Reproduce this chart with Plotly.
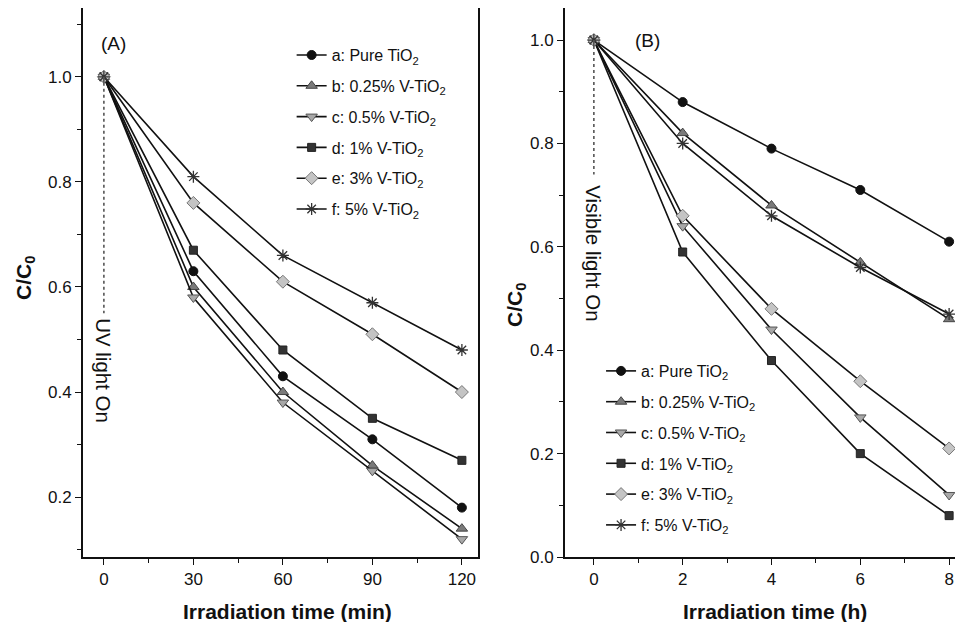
import plotly.graph_objects as go

# Panel A: UV light, time in minutes
time_min = [0, 30, 60, 90, 120]
uv_a = [1.0, 0.63, 0.43, 0.31, 0.18]
uv_b = [1.0, 0.60, 0.40, 0.26, 0.14]
uv_c = [1.0, 0.58, 0.38, 0.25, 0.12]
uv_d = [1.0, 0.67, 0.48, 0.35, 0.27]
uv_e = [1.0, 0.76, 0.61, 0.51, 0.40]
uv_f = [1.0, 0.81, 0.66, 0.57, 0.48]

# Panel B: visible light, time in hours
time_h = [0, 2, 4, 6, 8]
vis_a = [1.0, 0.88, 0.79, 0.71, 0.61]
vis_b = [1.0, 0.82, 0.68, 0.57, 0.46]
vis_c = [1.0, 0.64, 0.44, 0.27, 0.12]
vis_d = [1.0, 0.59, 0.38, 0.20, 0.08]
vis_e = [1.0, 0.66, 0.48, 0.34, 0.21]
vis_f = [1.0, 0.80, 0.66, 0.56, 0.47]

labels = [
    "a: Pure TiO<sub>2</sub>",
    "b: 0.25% V-TiO<sub>2</sub>",
    "c: 0.5% V-TiO<sub>2</sub>",
    "d: 1% V-TiO<sub>2</sub>",
    "e: 3% V-TiO<sub>2</sub>",
    "f: 5% V-TiO<sub>2</sub>",
]

FONT = "Arial, 'Liberation Sans', sans-serif"
INK = "#111111"

# the page body has an 8px margin, so the figure is 8px smaller than the window
W, H = 955, 614


def px(x, y):
    # window pixel -> paper fraction
    return (x - 8) / W, 1 - (y - 8) / H


# marker style per sample
styles = [
    dict(symbol="circle", size=9, color=INK, line=dict(color=INK, width=1)),
    dict(symbol="triangle-up", size=10, color="#7a7a7a", line=dict(color="#444444", width=1)),
    dict(symbol="triangle-down", size=10, color="#a8a8a8", line=dict(color="#555555", width=1)),
    dict(symbol="square", size=8, color="#333333", line=dict(color="#222222", width=1)),
    dict(symbol="diamond", size=10, color="#c4c4c4", line=dict(color="#777777", width=1)),
    dict(symbol="asterisk-open", size=10, color="#333333", line=dict(color="#333333", width=1.3)),
]

fig = go.Figure()

uv_series = [uv_a, uv_b, uv_c, uv_d, uv_e, uv_f]
vis_series = [vis_a, vis_b, vis_c, vis_d, vis_e, vis_f]

for i, ys in enumerate(uv_series):
    fig.add_trace(go.Scatter(
        x=time_min, y=ys, mode="lines+markers", name=labels[i],
        line=dict(color=INK, width=1.6), marker=styles[i],
        xaxis="x", yaxis="y", legend="legend", legendgroup="a" + str(i),
    ))

for i, ys in enumerate(vis_series):
    fig.add_trace(go.Scatter(
        x=time_h, y=ys, mode="lines+markers", name=labels[i],
        line=dict(color=INK, width=1.6), marker=styles[i],
        xaxis="x2", yaxis="y2", legend="legend2", legendgroup="b" + str(i),
    ))

axis_common = dict(
    showline=True, linecolor=INK, linewidth=1.8, mirror=True,
    ticks="outside", ticklen=6, tickwidth=1.4, tickcolor=INK,
    showgrid=False, zeroline=False, automargin=False,
    tickfont=dict(family=FONT, size=17, color=INK),
    minor=dict(ticks="outside", ticklen=4, tickwidth=1.2, tickcolor=INK),
)
title_font = dict(family=FONT, size=21, color=INK, weight="bold")

legend_common = dict(
    font=dict(family=FONT, size=16, color=INK),
    bgcolor="rgba(0,0,0,0)", tracegroupgap=7, itemwidth=30,
    xanchor="left", yanchor="top",
)

ya0 = px(0, 557)[1]
fig.update_layout(
    width=W, height=H,
    margin=dict(l=0, r=0, t=0, b=0),
    paper_bgcolor="white", plot_bgcolor="white",
    showlegend=True,
    xaxis=dict(domain=[px(83, 0)[0], px(478, 0)[0]], range=[-7, 125.4], tickvals=[0, 30, 60, 90, 120],
               minor_tickvals=[15, 45, 75, 105], **axis_common),
    yaxis=dict(domain=[ya0, 1.0], range=[0.086, 1.131], tickvals=[0.2, 0.4, 0.6, 0.8, 1.0],
               ticktext=["0.2", "0.4", "0.6", "0.8", "1.0"],
               minor_tickvals=[0.1, 0.3, 0.5, 0.7, 0.9, 1.1],
               anchor="x", **axis_common),
    xaxis2=dict(domain=[px(565, 0)[0], px(958, 0)[0]], range=[-0.65, 8.2], tickvals=[0, 2, 4, 6, 8],
                minor_tickvals=[1, 3, 5, 7], anchor="y2", **axis_common),
    yaxis2=dict(domain=[ya0, 1.0], range=[0.0, 1.062], tickvals=[0.0, 0.2, 0.4, 0.6, 0.8, 1.0],
                ticktext=["0.0", "0.2", "0.4", "0.6", "0.8", "1.0"],
                minor_tickvals=[0.1, 0.3, 0.5, 0.7, 0.9],
                anchor="x2", **axis_common),
    legend=dict(x=0.297, y=0.951, **legend_common),
    legend2=dict(x=0.621, y=0.4365, **legend_common),
)

# axis titles
for (cx, cy), text, angle in [
    ((287, 611), "Irradiation time (min)", 0),
    ((775, 611), "Irradiation time (h)", 0),
    ((25, 278), "C/C<sub>0</sub>", -90),
    ((516, 305), "C/C<sub>0</sub>", -90),
]:
    ax, ay = px(cx, cy)
    fig.add_annotation(x=ax, y=ay, xref="paper", yref="paper", text=text, textangle=angle,
                       xanchor="center", yanchor="middle", showarrow=False, font=title_font)

# light-on markers: dotted vertical line plus rotated label
fig.add_shape(type="line", xref="x", yref="y", x0=0, x1=0, y0=1.0, y1=0.55,
              line=dict(color="#555555", width=1.6, dash="dot"))
fig.add_shape(type="line", xref="x2", yref="y2", x0=0, x1=0, y0=1.0, y1=0.74,
              line=dict(color="#555555", width=1.6, dash="dot"))
fig.add_annotation(x=0, y=0.44, xref="x", yref="y", text="UV light On", textangle=90,
                   showarrow=False, font=dict(family=FONT, size=20.5, color=INK))
fig.add_annotation(x=0, y=0.588, xref="x2", yref="y2", text="Visible light On", textangle=90,
                   showarrow=False, font=dict(family=FONT, size=20.5, color=INK))

for (cx, cy), text in [((113, 43), "(A)"), ((647, 40), "(B)")]:
    ax, ay = px(cx, cy)
    fig.add_annotation(x=ax, y=ay, xref="paper", yref="paper", text=text, showarrow=False,
                       xanchor="center", yanchor="middle",
                       font=dict(family=FONT, size=19, color=INK))

fig.write_html("out.html")
